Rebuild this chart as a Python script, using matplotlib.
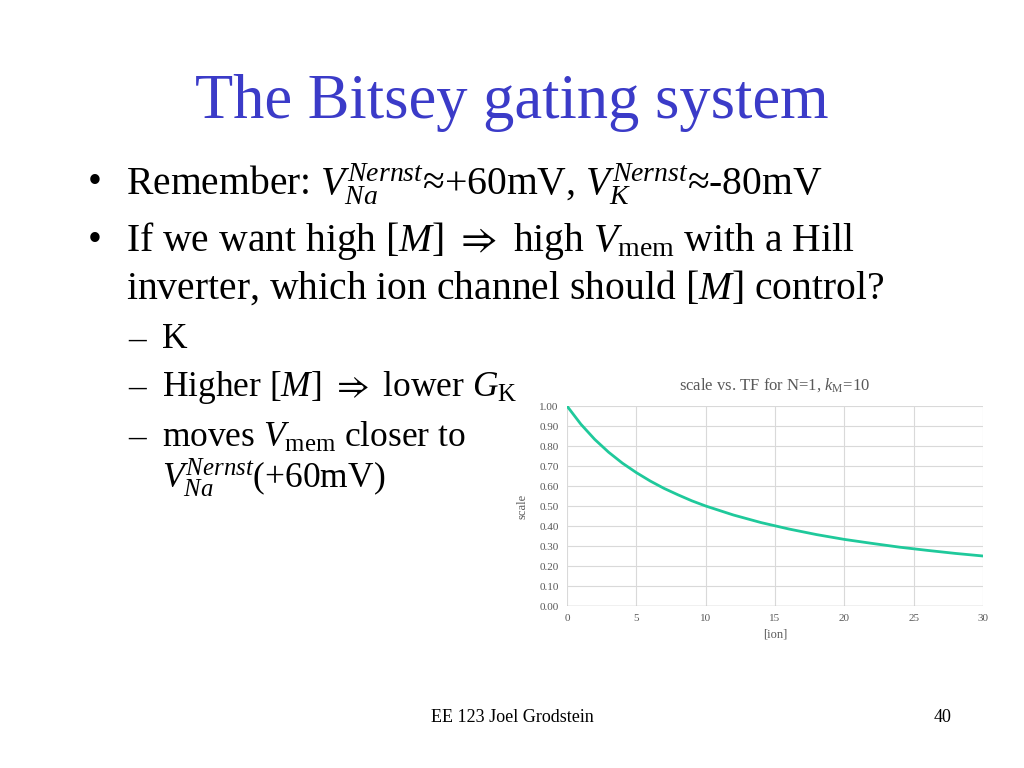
import matplotlib
matplotlib.use("Agg")
import matplotlib.pyplot as plt

ion = [0, 1, 2, 3, 4, 5, 6, 7, 8, 9, 10, 12, 14, 16, 18, 20, 22, 24, 26, 28, 30]
scale = [1.00, 0.909, 0.833, 0.769, 0.714, 0.667, 0.625, 0.588, 0.556, 0.526, 0.500,
         0.455, 0.417, 0.385, 0.357, 0.333, 0.313, 0.294, 0.278, 0.263, 0.250]
xticks = [0, 5, 10, 15, 20, 25, 30]
yticks = [0.0, 0.1, 0.2, 0.3, 0.4, 0.5, 0.6, 0.7, 0.8, 0.9, 1.0]

plt.rcParams['font.family'] = 'Liberation Serif'
plt.rcParams['mathtext.fontset'] = 'custom'
plt.rcParams['mathtext.rm'] = 'Liberation Serif'
plt.rcParams['mathtext.it'] = 'Liberation Serif:italic'
plt.rcParams['mathtext.fallback'] = 'stix'

fig = plt.figure(figsize=(10.24, 7.68), dpi=100)
W, H = 1024, 768
def t(x, y, s, **kw):
    fig.text(x / W, 1 - y / H, s, va='center', **kw)

t(512, 103, "The Bitsey gating system", ha='center', fontsize=45, color='#3B3BC8')
fs = 28.5
t(88, 184, "•", fontsize=fs)
t(126, 184, r"Remember: $\it{V}_{\it{Na}}^{\it{Nernst}}$≈+60mV, $\it{V}_{\it{K}}^{\it{Nernst}}$≈-80mV", fontsize=fs)
t(88, 241, "•", fontsize=fs)
t(126, 241, r"If we want high [$\it{M}$] $\Rightarrow$ high $\it{V}_{\rm{mem}}$ with a Hill", fontsize=fs)
t(126, 288, r"inverter, which ion channel should [$\it{M}$] control?", fontsize=fs)
fs2 = 25.5
t(128, 340, "–", fontsize=fs2)
t(162, 340, "K", fontsize=fs2)
t(128, 388, "–", fontsize=fs2)
t(162, 388, r"Higher [$\it{M}$] $\Rightarrow$ lower $\it{G}_{\rm{K}}$", fontsize=fs2)
t(128, 438, "–", fontsize=fs2)
t(162, 438, r"moves $\it{V}_{\rm{mem}}$ closer to", fontsize=fs2)
t(162, 478, r"$\it{V}_{\it{Na}}^{\it{Nernst}}$(+60mV)", fontsize=fs2)
t(512, 718, "EE 123 Joel Grodstein", ha='center', fontsize=13)
t(943, 718, "40", ha='center', fontsize=13)

ax = fig.add_axes([567 / W, 1 - 606 / H, 416 / W, 200 / H])
ax.plot(ion, scale, color='#1FC99B', lw=2)
ax.set_xlim(0, 30)
ax.set_ylim(0, 1)
ax.set_xticks(xticks)
ax.set_yticks(yticks)
ax.set_yticklabels([f"{v:.2f}" for v in yticks])
ax.grid(True, color='#D9D9D9', lw=0.8)
ax.tick_params(length=0, labelsize=8, colors='#595959', pad=6)
for s in ax.spines.values():
    s.set_visible(False)
ax.axhline(0, color='#BFBFBF', lw=1)
ax.set_xlabel("[ion]", fontsize=9, color='#595959')
ax.set_ylabel("scale", fontsize=9, color='#595959', labelpad=8)
ax.set_title(r"scale vs. TF for N=1, $\it{k}_{\rm{M}}$=10", fontsize=12, color='#595959', pad=12)

fig.savefig("out.png", dpi=100, facecolor='white')
